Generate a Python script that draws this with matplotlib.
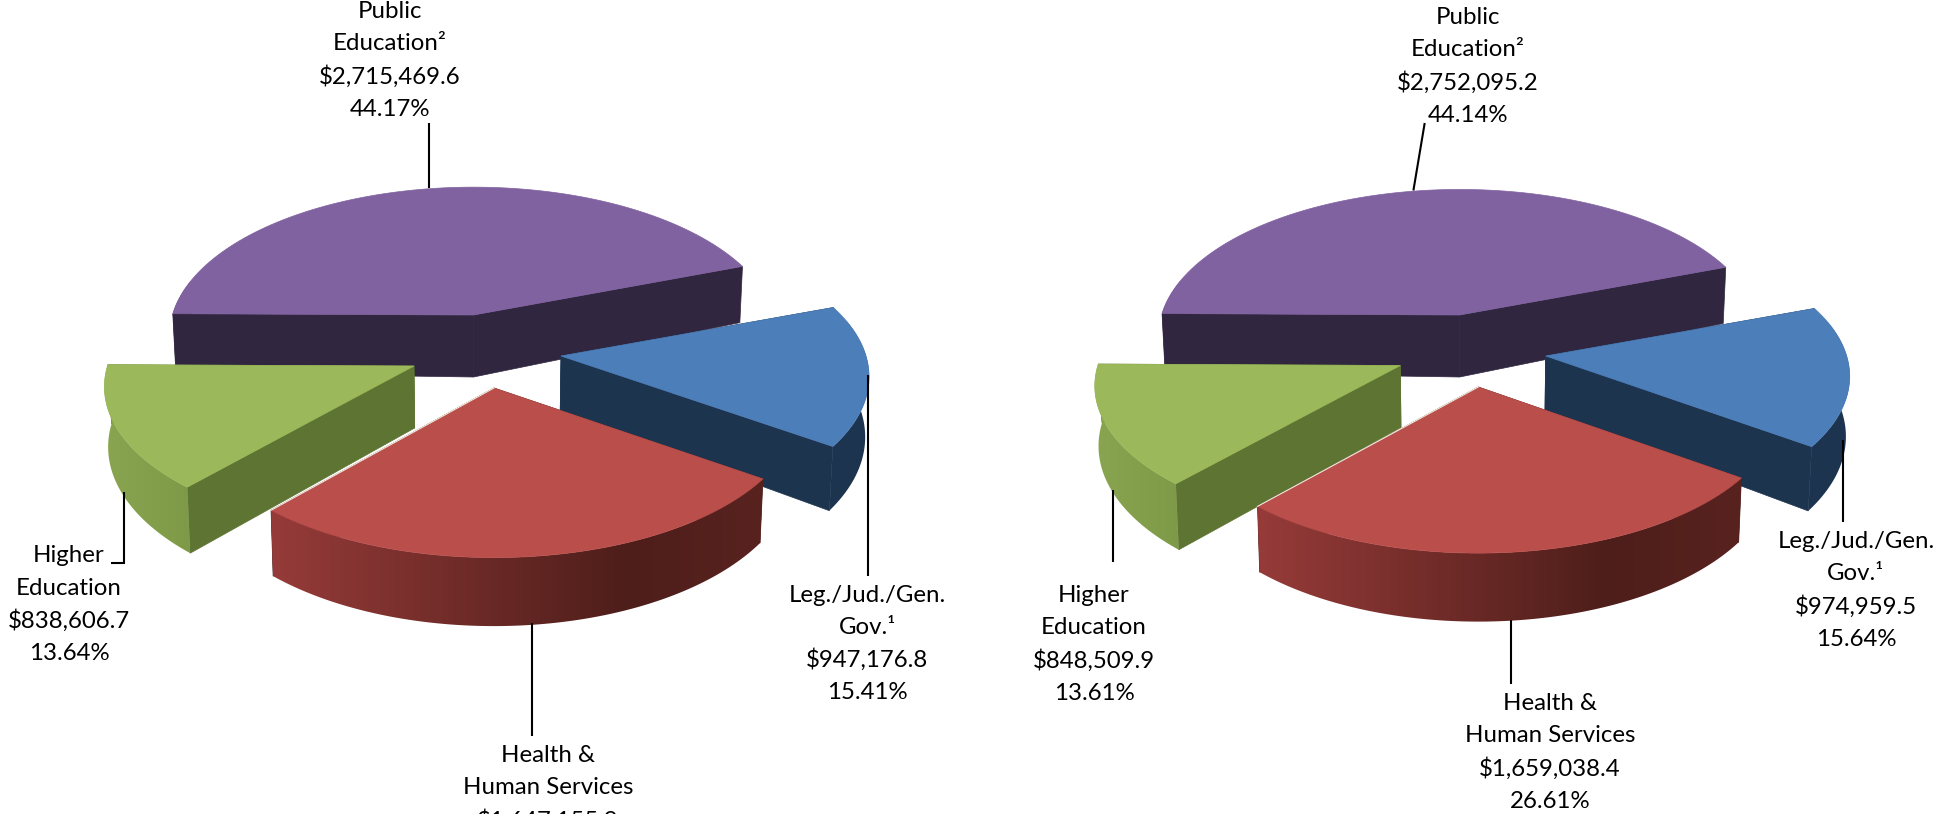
import numpy as np
import matplotlib
matplotlib.use("Agg")
import matplotlib.pyplot as plt
from matplotlib.colors import to_rgb, LinearSegmentedColormap
from matplotlib.patches import Polygon

plt.rcParams['font.family'] = ['Lato', 'DejaVu Sans']

# ---------- data ----------
slices = ["Public Education", "Leg./Jud./Gen. Gov.", "Health & Human Services", "Higher Education"]
label_lines = [["Public", "Education\u00b2"], ["Leg./Jud./Gen.", "Gov.\u00b9"],
               ["Health &", "Human Services"], ["Higher", "Education"]]
left_values = [2715469.6, 947176.8, 1647155.9, 838606.7]
right_values = [2752095.2, 974959.5, 1659038.4, 848509.9]

# ---------- style ----------
W, H = 1956, 814
KP = 0.139           # perspective strength
ROT = 20.5           # pie rotation: angle where the first slice ends
CONV = 0.99          # walls lean slightly towards the pie's centre line
TOP = ["#8062A0", "#4C7EBA", "#BA4E4B", "#9BB95A"]
CUT = ["#312640", "#1D344F", "#4E1E1A", "#5E7432"]
ARC = [[(0, "#312640"), (1, "#312640")],
       [(0, "#1D344F"), (1, "#1D344F")],
       [(0, "#963B39"), (0.72, "#4E1E1A"), (1, "#58221F")],
       [(0, "#8AA550"), (1, "#7E9A48")]]
APEX_DEPTH = [62, 57, 60, 62]
DRAW_ORDER = [0, 1, 3, 2]
Y_STRETCH = [1.0, 0.985, 1.0, 0.975]

LEFT = dict(a=302, b=146, d=59, cx=480, stretch=[0.997, 1.01, 1.0, 1.015],
            centers=[(473.5, 315), (561, 356), (494, 388), (414, 366)],
            leaders=[[(428.6, 123), (428.6, 188)], [(868, 375), (868, 576)],
                     [(531.5, 623), (531.5, 736)], [(123.5, 492), (123.5, 563), (111, 563)]],
            text=[(390, 11.5), (867, 595), (548, 755.5), (69, 556)])
RIGHT = dict(a=298, b=143, d=59, cx=1470, stretch=[1.0, 1.01, 1.0, 1.015],
             centers=[(1459.6, 315), (1545.7, 356), (1478.3, 387), (1400.3, 365.5)],
             leaders=[[(1424.7, 123), (1413.4, 190.5)], [(1842.6, 440), (1842.6, 522)],
                      [(1511.4, 620), (1511.4, 684)], [(1112.7, 490), (1112.7, 562)]],
             text=[(1467.7, 17.5), (1856, 541.5), (1550, 703.5), (1094, 595.5)])
FONT = 17.3
LINE = 32.5


def project(t, r, ys, cfg, centre):
    u, v = r * np.cos(t), r * np.sin(t)
    w = 1 + KP * v
    x = centre[0] + cfg['a'] * u / w
    y = centre[1] - cfg['b'] * ys * v / w
    xb = cfg['cx'] + (x - cfg['cx']) * CONV
    yb = y + cfg['d'] / w
    return x, y, xb, yb


def draw_pie(ax, values, cfg):
    values = np.asarray(values, float)
    share = values / values.sum()
    spans = []
    start = ROT + share[0] * 360
    for s in share:
        spans.append((start, start - s * 360))
        start -= s * 360
    for i in DRAW_ORDER:
        a0, a1 = np.radians(spans[i])
        c = cfg['centers'][i]
        ts = np.linspace(a0, a1, 200)
        x, y, xb, yb = project(ts, cfg['stretch'][i], Y_STRETCH[i], cfg, c)
        ax0, ay0 = c
        axb = cfg['cx'] + (ax0 - cfg['cx']) * CONV
        ayb = ay0 + APEX_DEPTH[i]
        # cut faces
        for k in (0, -1):
            ax.fill([ax0, x[k], xb[k], axb], [ay0, y[k], yb[k], ayb], color=CUT[i], lw=0.5, zorder=2)
        # outer curved wall, shaded from left to right
        vis = np.sin(ts) < 0.25
        if vis.any():
            px = np.r_[x[vis], xb[vis][::-1]]
            py = np.r_[y[vis], yb[vis][::-1]]
            poly = Polygon(np.c_[px, py], closed=True, facecolor="none", edgecolor="none",
                           transform=ax.transData)
            ax.add_patch(poly)
            cmap = LinearSegmentedColormap.from_list("wall", [(p, to_rgb(col)) for p, col in ARC[i]])
            im = ax.imshow(np.linspace(0, 1, 256)[None, :], cmap=cmap, aspect='auto', vmin=0, vmax=1,
                           extent=(px.min() - 1, px.max() + 1, py.max() + 1, py.min() - 1),
                           zorder=2, interpolation='bilinear')
            im.set_clip_path(poly)
        # top
        ax.fill(np.r_[ax0, x], np.r_[ay0, y], color=TOP[i], lw=0.5, zorder=2)
        if i == 2:
            ax.plot([ax0, x[-1]], [ay0, y[-1]], color="#EDEDE0", lw=0.8, zorder=2)
    for pts in cfg['leaders']:
        p = np.array(pts)
        ax.plot(p[:, 0], p[:, 1], color="black", lw=1.5, solid_capstyle='butt',
                solid_joinstyle='miter', zorder=3)
    for i, (tx, ty) in enumerate(cfg['text']):
        lines = label_lines[i] + [f"${values[i]:,.1f}"]
        if ty + 3 * LINE < H:
            lines.append(f"{share[i] * 100:.2f}%")
        for n, s in enumerate(lines):
            ax.text(tx, ty + n * LINE, s, ha='center', va='center', fontsize=FONT,
                    color="black", zorder=4, clip_on=True)


fig = plt.figure(figsize=(W / 100, H / 100), dpi=100, facecolor="white")
ax = fig.add_axes([0, 0, 1, 1])
draw_pie(ax, left_values, LEFT)
draw_pie(ax, right_values, RIGHT)
ax.set_xlim(0, W)
ax.set_ylim(H, 0)
ax.axis('off')
fig.savefig("out.png", dpi=100, facecolor="white")
